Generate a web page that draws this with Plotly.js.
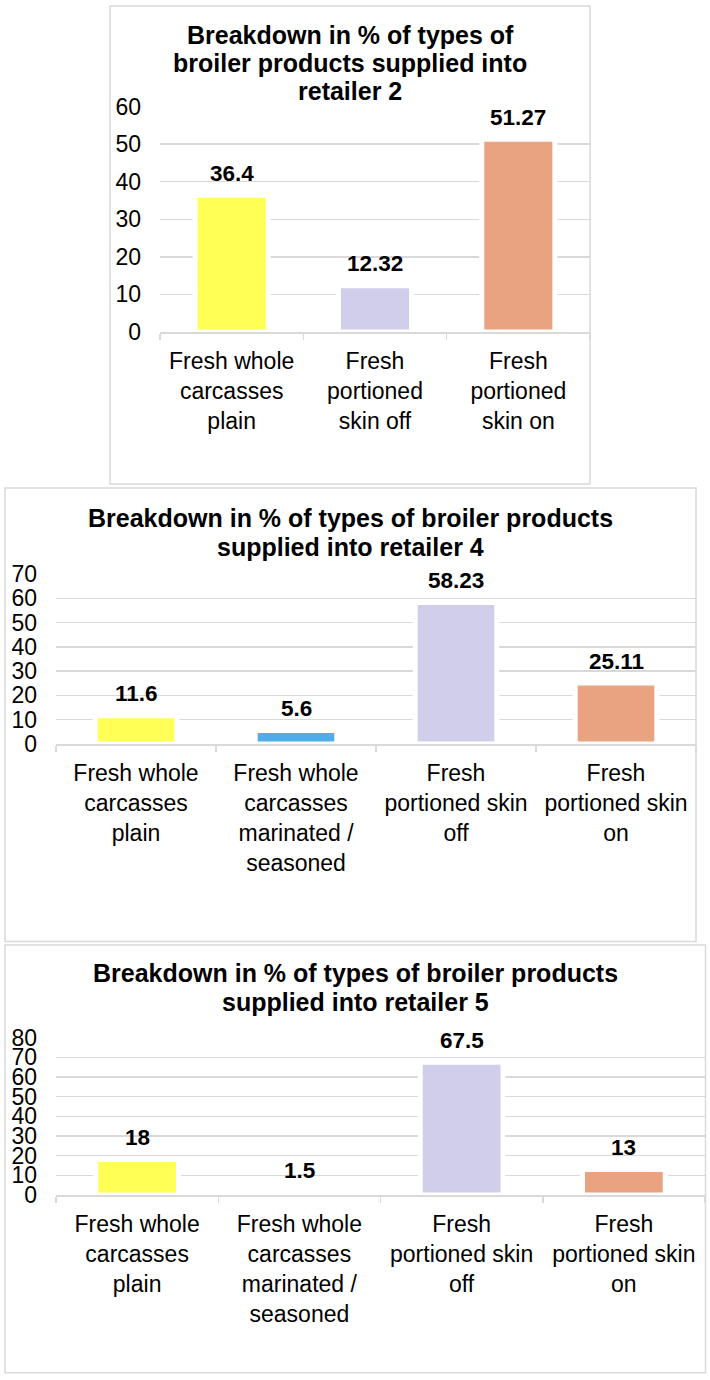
<!DOCTYPE html>
<html>
<head>
<meta charset="utf-8">
<script src="https://cdn.plot.ly/plotly-3.0.1.min.js"></script>
<style>
  html, body { margin: 0; padding: 0; background: #ffffff; }
  #chart { width: 710px; height: 1380px; }
</style>
</head>
<body>
<div id="chart"></div>
<script>
// ---------- data ----------
const titles1 = ["Breakdown in % of types of", "broiler products supplied into", "retailer 2"];
const titles2 = ["Breakdown in % of types of broiler products", "supplied into retailer 4"];
const titles3 = ["Breakdown in % of types of broiler products", "supplied into retailer 5"];

const categories1 = ["Fresh whole<br>carcasses<br>plain", "Fresh<br>portioned<br>skin off", "Fresh<br>portioned<br>skin on"];
const values1 = [36.4, 12.32, 51.27];

const categories2 = ["Fresh whole<br>carcasses<br>plain", "Fresh whole<br>carcasses<br>marinated /<br>seasoned", "Fresh<br>portioned skin<br>off", "Fresh<br>portioned skin<br>on"];
const values2 = [11.6, 5.6, 58.23, 25.11];

const categories3 = ["Fresh whole<br>carcasses<br>plain", "Fresh whole<br>carcasses<br>marinated /<br>seasoned", "Fresh<br>portioned skin<br>off", "Fresh<br>portioned skin<br>on"];
const values3 = [18, 1.5, 67.5, 13];

const yMax1 = 60, yMax2 = 70, yMax3 = 80;

// ---------- styling ----------
const W = 710, H = 1380;
const FONT = "Liberation Sans, Arial, Helvetica, sans-serif";
const GRID = "#d9d9d9";
const YELLOW = "#FFFF55", BLUE = "#4FADEA", LAVENDER = "#D0CEEA", SALMON = "#EAA380";

const colors1 = [YELLOW, LAVENDER, SALMON];
const colors2 = [YELLOW, BLUE, LAVENDER, SALMON];
const colors3 = [YELLOW, "rgba(0,0,0,0)", LAVENDER, SALMON];
const lines1 = [5, 5, 5];
const lines2 = [5, 5, 5, 5];
const lines3 = [5, 0, 5, 5];

const px = x => x / W;
const py = y => 1 - y / H;

// plot areas in page pixels: [left, right, top(ymax), bottom(0)]
const areas = [
  [160, 590, 106.5, 332],
  [56, 696, 574, 744],
  [56, 705, 1037.7, 1195]
];
const boxes = [
  [110, 590, 6, 484],
  [5, 696, 488, 941.5],
  [5, 705.5, 945, 1372.7]
];
const titleLines = [
  {lines: titles1, cx: 350, ys: [35, 63, 91]},
  {lines: titles2, cx: 350.5, ys: [518, 547]},
  {lines: titles3, cx: 355.5, ys: [973, 1002]}
];

const sets = [
  {cats: categories1, vals: values1, cols: colors1, lw: lines1, ymax: yMax1},
  {cats: categories2, vals: values2, cols: colors2, lw: lines2, ymax: yMax2},
  {cats: categories3, vals: values3, cols: colors3, lw: lines3, ymax: yMax3}
];

const data = [];
const layout = {
  width: W, height: H,
  margin: {l: 0, r: 0, t: 0, b: 0},
  paper_bgcolor: "#ffffff",
  plot_bgcolor: "rgba(0,0,0,0)",
  showlegend: false,
  font: {family: FONT, color: "#000000"},
  annotations: [],
  shapes: []
};

sets.forEach((s, i) => {
  const n = i === 0 ? "" : String(i + 1);
  const a = areas[i];
  data.push({
    type: "bar",
    x: s.cats,
    y: s.vals,
    xaxis: "x" + n,
    yaxis: "y" + n,
    width: 0.51,
    marker: {color: s.cols, line: {color: "#ffffff", width: s.lw}},
    hoverinfo: "skip"
  });
  layout["xaxis" + n] = {
    domain: [px(a[0]), px(a[1])],
    anchor: "y" + n,
    type: "category",
    showgrid: false,
    zeroline: false,
    showline: true,
    linecolor: GRID,
    linewidth: 1.5,
    ticks: "outside",
    tickson: "boundaries",
    ticklen: 6,
    tickwidth: 1.5,
    tickcolor: GRID,
    tickfont: {family: FONT, size: 23, color: "#000000"},
    ticklabelstandoff: 8,
    fixedrange: true
  };
  layout["yaxis" + n] = {
    domain: [py(a[3]), py(a[2])],
    anchor: "x" + n,
    range: [0, s.ymax],
    dtick: 10,
    tick0: 0,
    showgrid: true,
    gridcolor: GRID,
    gridwidth: 1.5,
    zeroline: false,
    showline: false,
    ticks: "",
    tickfont: {family: FONT, size: 23, color: "#000000"},
    ticklabelstandoff: 18,
    fixedrange: true
  };
  s.vals.forEach((v, j) => {
    layout.annotations.push({
      xref: "x" + n, yref: "y" + n,
      x: s.cats[j], y: v,
      text: "<b>" + String(v) + "</b>",
      showarrow: false,
      yanchor: "middle",
      yshift: 22,
      font: {family: FONT, size: 22.5, color: "#000000"}
    });
  });
  const b = boxes[i];
  layout.shapes.push({
    type: "rect", xref: "paper", yref: "paper",
    x0: px(b[0]), x1: px(b[1]), y0: py(b[3]), y1: py(b[2]),
    line: {color: GRID, width: 1.5}, fillcolor: "rgba(0,0,0,0)",
    layer: "below"
  });
  const t = titleLines[i];
  t.lines.forEach((line, k) => {
    layout.annotations.push({
      xref: "paper", yref: "paper",
      x: px(t.cx), y: py(t.ys[k]),
      xanchor: "center", yanchor: "middle",
      text: "<b>" + line + "</b>",
      showarrow: false,
      font: {family: FONT, size: 25, color: "#000000"}
    });
  });
});

Plotly.newPlot("chart", data, layout, {staticPlot: true, displayModeBar: false});
</script>
</body>
</html>
